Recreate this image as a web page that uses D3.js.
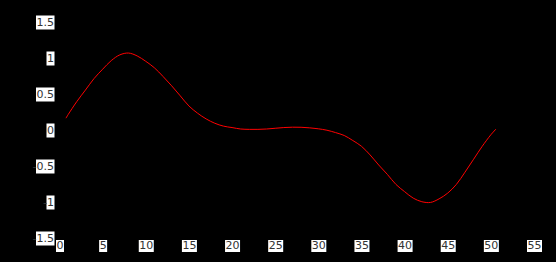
<!DOCTYPE html>
<html>
<head>
<meta charset="utf-8">
<script src="https://cdn.jsdelivr.net/npm/d3@7"></script>
<style>
  body { margin: 0; background: #000; }
  svg { display: block; background: #000; }
  .axis text { font-family: 'DejaVu Sans', sans-serif; font-size: 11px; fill: #333; }
</style>
</head>
<body>
<div id="chart"></div>
<script>
// curve samples
const xValues = [0.75, 1, 2, 3, 4, 5, 6, 7, 8, 9, 10, 11, 12, 13, 14, 15, 16, 17, 18, 19, 20,
  21, 22, 23, 24, 25, 26, 27, 28, 29, 30, 31, 32, 33, 34, 35, 36, 37, 38, 39, 40,
  41, 42, 43, 44, 45, 46, 47, 48, 49, 50, 50.6]
const yValues = [0.15, 0.2, 0.38, 0.54, 0.7, 0.83, 0.95, 1.03, 1.055, 1.015, 0.94, 0.85, 0.73, 0.6, 0.46,
  0.32, 0.22, 0.14, 0.08, 0.04, 0.02, 0.0, -0.005, -0.005, 0.0, 0.01, 0.02, 0.025, 0.024, 0.016,
  0.003, -0.017, -0.05, -0.09, -0.16, -0.24, -0.36, -0.5, -0.63, -0.77, -0.87, -0.96, -1.01,
  -1.02, -0.97, -0.89, -0.77, -0.6, -0.42, -0.24, -0.08, 0.0]
const xTicks = [0, 5, 10, 15, 20, 25, 30, 35, 40, 45, 50, 55]
const yTicks = [-1.5, -1, -0.5, 0, 0.5, 1, 1.5]

const width = 556
const height = 262

const svg = d3
  .select('#chart')
  .append('svg')
  .attr('width', width)
  .attr('height', height)

const xPositionScale = d3.scaleLinear().domain([0, 55]).range([59.5, 534])
const yPositionScale = d3.scaleLinear().domain([-1.5, 1.5]).range([237, 21])

const points = xValues.map((x, i) => ({ x: x, y: yValues[i] }))

const line = d3
  .line()
  .x(d => xPositionScale(d.x))
  .y(d => yPositionScale(d.y))
  .curve(d3.curveCatmullRom.alpha(0.5))

svg
  .append('path')
  .datum(points)
  .attr('d', line)
  .attr('fill', 'none')
  .attr('stroke', 'red')
  .attr('stroke-width', 1)

const yAxis = d3
  .axisLeft(yPositionScale)
  .tickValues(yTicks)
  .tickSize(0)
  .tickPadding(0)
  .tickFormat(d => (d < 0 ? '-' : '') + Math.abs(d))

svg
  .append('g')
  .attr('class', 'axis y-axis')
  .attr('transform', 'translate(54,0)')
  .call(yAxis)

const xAxis = d3
  .axisBottom(xPositionScale)
  .tickValues(xTicks)
  .tickSize(0)
  .tickPadding(0)

svg
  .append('g')
  .attr('class', 'axis x-axis')
  .attr('transform', 'translate(0,240)')
  .call(xAxis)

svg.selectAll('.domain').attr('stroke', '#000')
svg.selectAll('.x-axis text').attr('dy', '0.82em')
svg.selectAll('.y-axis text').attr('dy', '0.45em')

// white label boxes, only behind the digits (the minus stays black on black)
function addBoxes(selector, top, boxHeight) {
  svg.selectAll(selector + ' .tick').each(function() {
    const node = d3.select(this).select('text').node()
    const str = node.textContent
    const start = str[0] === '-' ? 1 : 0
    const first = node.getExtentOfChar(start)
    const last = node.getExtentOfChar(str.length - 1)
    d3.select(this)
      .insert('rect', 'text')
      .attr('x', first.x - 0.5)
      .attr('y', top)
      .attr('width', last.x + last.width - first.x + 1)
      .attr('height', boxHeight)
      .attr('fill', '#fff')
  })
}
addBoxes('.y-axis', -6, 14)
addBoxes('.x-axis', 0, 12)
</script>
</body>
</html>
